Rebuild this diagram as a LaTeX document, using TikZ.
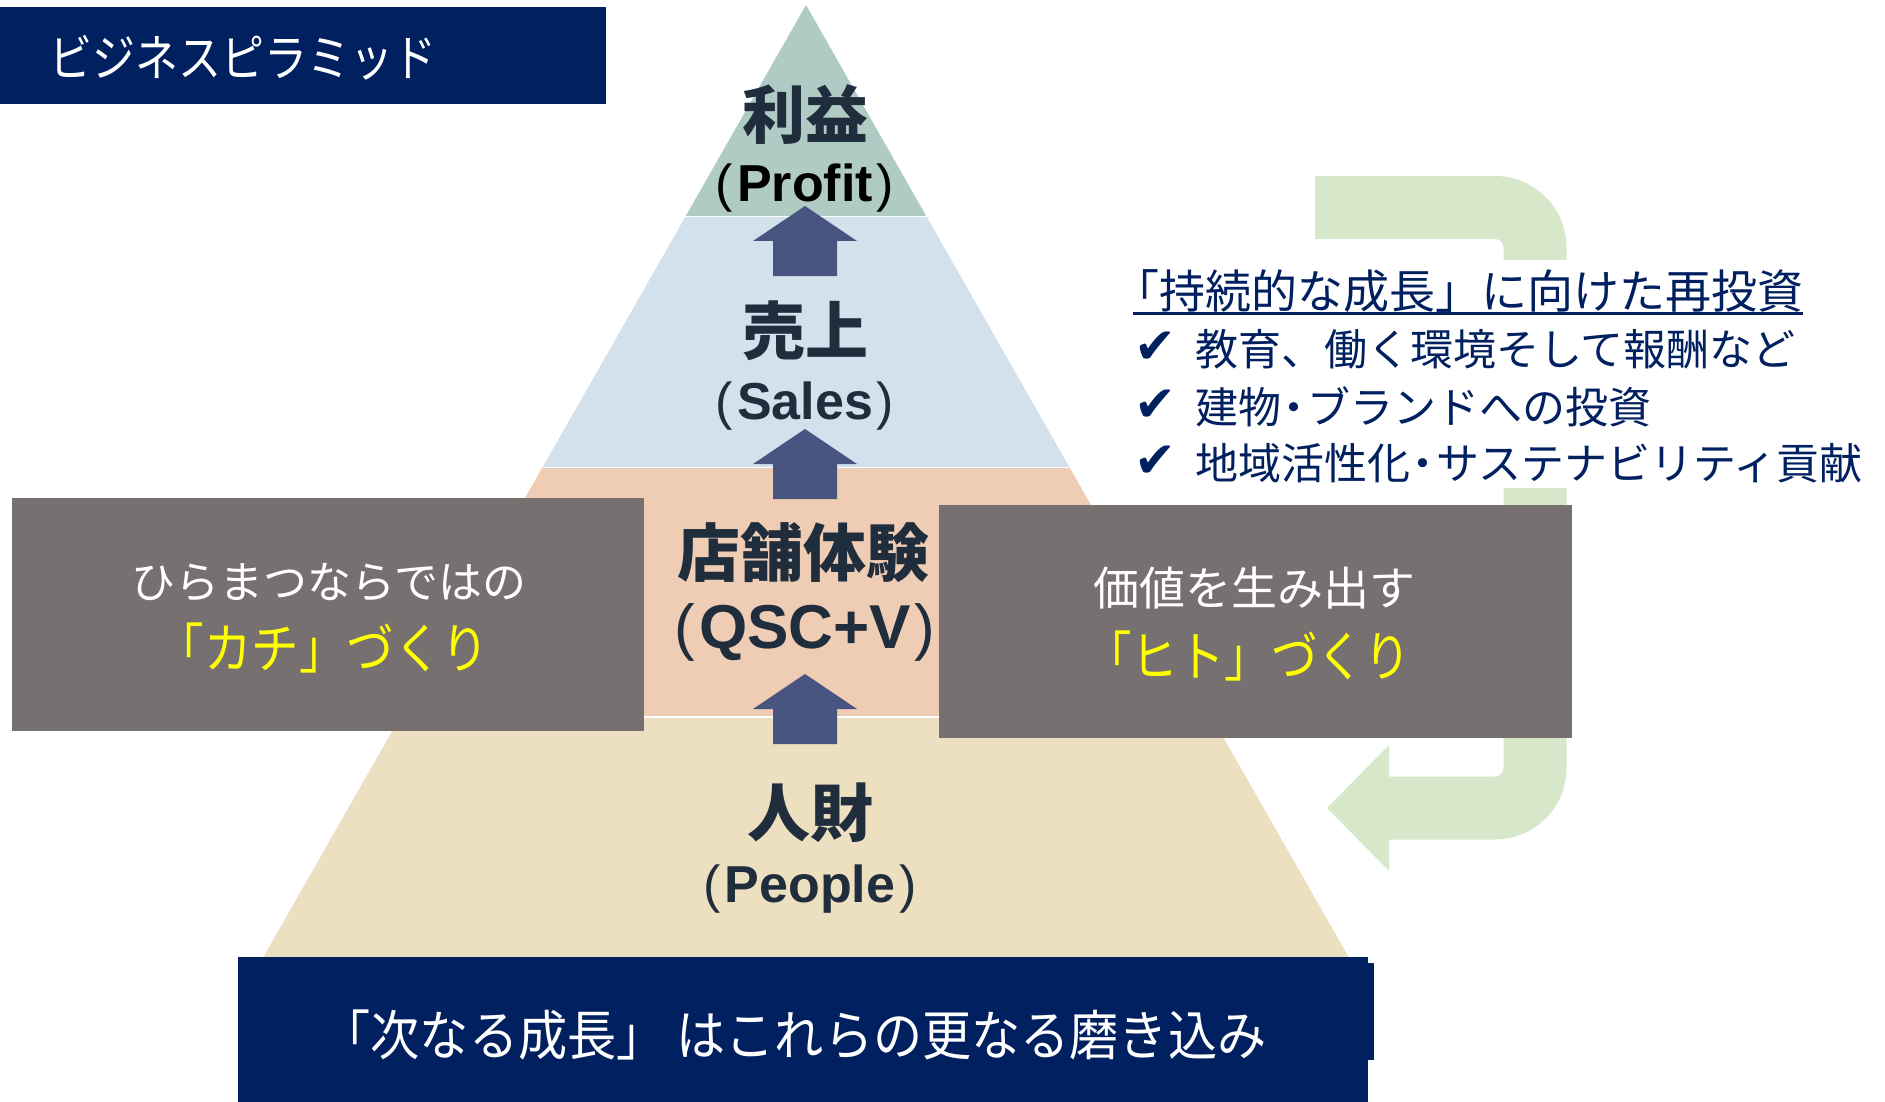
\documentclass[tikz,border=0pt]{standalone}
\usepackage{fontspec}
\usepackage{graphicx}
\setmainfont{Liberation Sans}
\newfontfamily\jp{Noto Sans CJK JP}
\newfontfamily\symf{DejaVu Sans}
\newcommand\myfs[1]{\fontsize{#1}{#1}\selectfont}
\newcommand\pl{{\mdseries(}\kern4pt}
\newcommand\pr{\kern4pt{\mdseries)}}
\newcommand\nd{\kern-0.2em・\kern-0.2em}
\definecolor{navy}{RGB}{0,32,96}
\definecolor{tgreen}{RGB}{176,203,195}
\definecolor{tblue}{RGB}{211,225,237}
\definecolor{tpeach}{RGB}{239,204,180}
\definecolor{tbeige}{RGB}{237,224,192}
\definecolor{arrc}{RGB}{71,85,128}
\definecolor{dark}{RGB}{31,45,61}
\definecolor{gbox}{RGB}{118,113,112}
\definecolor{lgreen}{RGB}{214,231,202}
\definecolor{yel}{RGB}{255,255,0}
\begin{document}
\begin{tikzpicture}[x=1pt,y=-1pt,
  box/.style={anchor=north west, inner sep=0, outer sep=0},
  jplabel/.style={font=\jp\bfseries\myfs{63}, text=dark, inner sep=0},
  enlabel/.style={font=\bfseries\myfs{52}, text=dark, inner sep=0},
  whitetxt/.style={font=\jp\myfs{44}, text=white, inner sep=0},
  yeltxt/.style={font=\jp\myfs{54}, text=yel, inner sep=0},
  rtxt/.style={font=\jp\myfs{43}, text=navy, inner sep=0, anchor=west},
  chk/.style={font=\symf\myfs{50}, text=navy, inner sep=0, anchor=west},
  uparrow/.pic={\fill[arrc] (-32,0) -- (-32,-35) -- (-52,-35) -- (0,-70) -- (52,-35) -- (32,-35) -- (32,0) -- cycle;}
]
\useasboundingbox (0,0) rectangle (1885,1102);
\fill[white] (0,0) rectangle (1885,1102);

% recycling arrow
\draw[lgreen, line width=63, rounded corners=40] (1315,207.5) -- (1535,207.5) -- (1535,808) -- (1389,808);
\fill[lgreen] (1389,745) -- (1327,808) -- (1389,871) -- cycle;

% right text block with white background
\node[box, fill=white, minimum width=755, minimum height=228] (textbg) at (1125,260) {};
\node[rtxt, font=\jp\myfs{46}] (head) at (1133,291) {\kern-20pt「持続的な成長」に向けた再投資};
\draw[navy, line width=2.5] ([yshift=-5pt]head.base west) -- ([yshift=-5pt]head.base east);
\node[chk] (c1) at (1134,348) {✔};
\node[rtxt] (b1) at (1195,349) {教育、働く環境そして報酬など};
\node[chk] (c2) at (1134,406) {✔};
\node[rtxt] (b2) at (1195,407) {建物\nd ブランドへの投資};
\node[chk] (c3) at (1134,462) {✔};
\node[rtxt] (b3) at (1195,463) {地域活性化\nd サステナビリティ貢献};

% pyramid
\fill[tbeige] (400.2,717) -- (1211.8,717) -- (1354.3,967) -- (257.7,967) -- cycle;
\fill[tpeach] (542.7,467) -- (1069.3,467) -- (1211.8,717) -- (400.2,717) -- cycle;
\fill[tblue] (685.2,217) -- (926.8,217) -- (1069.3,467) -- (542.7,467) -- cycle;
\fill[tgreen] (806,5) -- (926.8,217) -- (685.2,217) -- cycle;
\draw[white, line width=1] (685.2,217) -- (926.8,217);
\draw[white, line width=1] (542.7,467) -- (1069.3,467);
\draw[white, line width=2.5] (400.2,717) -- (1211.8,717);

% upward arrows
\pic at (805,276) {uparrow};
\pic at (805,499) {uparrow};
\pic at (805,744) {uparrow};

% pyramid labels
\node[jplabel] (lprofit) at (805,115) {利益};
\node[enlabel, text=black] (eprofit) at (805,188) {\pl Profit\pr};
\node[jplabel] (lsales) at (805,331) {売上};
\node[enlabel] (esales) at (805,406) {\pl Sales\pr};
\node[jplabel] (lstore) at (803,553) {店舗体験};
\node[enlabel, font=\bfseries\myfs{62}] (eqsc) at (805,632) {\pl QSC+V\pr};
\node[jplabel] (lpeople) at (810,813) {人財};
\node[enlabel] (epeople) at (810,889) {\pl People\pr};

% grey boxes
\node[box, fill=gbox, minimum width=632, minimum height=233] (lbox) at (12,498) {};
\node[whitetxt] (l1) at (329,582) {ひらまつならではの};
\node[yeltxt] (l2) at (323,648) {\scalebox{0.88}[1]{「カチ」づくり}};
\node[box, fill=gbox, minimum width=633, minimum height=233] (rbox) at (939,505) {};
\node[whitetxt, font=\jp\myfs{46}] (r1) at (1254,588) {価値を生み出す};
\node[yeltxt] (r2) at (1248,656) {\scalebox{0.86}[1]{「ヒト」づくり}};

% bottom box
\node[box, fill=navy, minimum width=1130, minimum height=145] (bbox) at (238,957) {};
\node[box, fill=navy, minimum width=8, minimum height=97] (bjog) at (1366,963) {};
\node[font=\jp\myfs{54}, text=white, inner sep=0] (btxt) at (794,1035) {\scalebox{0.91}[1]{「次なる成長」 はこれらの更なる磨き込み}};

% title
\node[box, fill=navy, minimum width=606, minimum height=97] (tbox) at (0,7) {};
\node[font=\jp\myfs{50}, text=white, inner sep=0, anchor=west] (ttl) at (49,58) {\scalebox{0.86}[1]{ビジネスピラミッド}};
\end{tikzpicture}
\end{document}
